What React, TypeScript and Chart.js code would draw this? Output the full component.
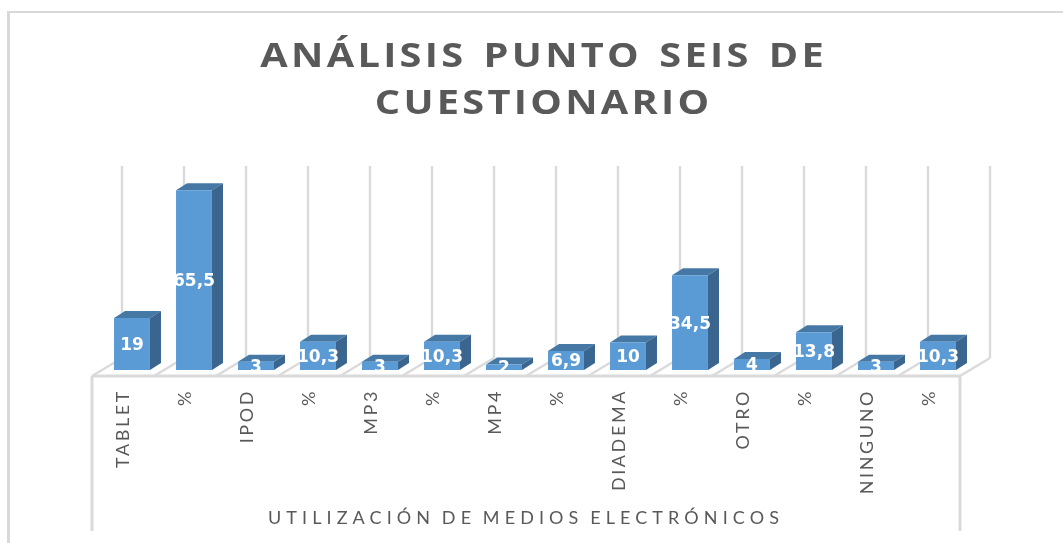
import React, { useEffect, useRef } from "react";
import { Chart, registerables } from "chart.js";

Chart.register(...registerables);

const categories = ["TABLET", "%", "IPOD", "%", "MP3", "%", "MP4", "%", "DIADEMA", "%", "OTRO", "%", "NINGUNO", "%"];
const values = [19, 65.5, 3, 10.3, 3, 10.3, 2, 6.9, 10, 34.5, 4, 13.8, 3, 10.3];
const titleLines = ["ANÁLISIS  PUNTO  SEIS  DE", "CUESTIONARIO"];
const axisTitle = "UTILIZACIÓN DE MEDIOS ELECTRÓNICOS";

const DEPTH_X = 30, DEPTH_Y = 18;      // depth of the floor
const BAR_SHIFT_X = 9, BAR_SHIFT_Y = 6; // bars stand part-way in the floor
const SIDE_X = 11, SIDE_Y = 7;         // depth of each bar
const GRID = "#dadada";

function spaced(obj: any, method: string, spacing: string, word = "0px", before?: (c: CanvasRenderingContext2D) => void) {
  const key = "__spaced_" + method;
  if (obj[key]) return;
  obj[key] = true;
  const orig = obj[method];
  obj[method] = function (...args: any[]) {
    const c = this.ctx;
    c.save();
    c.letterSpacing = spacing;
    c.wordSpacing = word;
    if (before) before(c);
    const r = orig.apply(this, args);
    c.restore();
    return r;
  };
}

const line = (c: CanvasRenderingContext2D, x1: number, y1: number, x2: number, y2: number) => {
  c.beginPath();
  c.moveTo(x1, y1);
  c.lineTo(x2, y2);
  c.stroke();
};

const pseudo3d = {
  id: "pseudo3d",
  beforeDraw(chart: any) {
    // the reference title is stretched sideways and sits right of the axis centre
    spaced(chart.titleBlock, "draw", "2.8px", "-4.3px", (c) => {
      c.translate(542.5, 0);
      c.scale(1.17, 1);
      c.translate(-525, 1);
    });
    spaced(chart.scales.x, "drawLabels", "2.6px");
    spaced(chart.scales.x, "drawTitle", "5.1px", "-3px");
    const c = chart.ctx as CanvasRenderingContext2D;
    c.save();
    c.fillStyle = "#d9d9d9";
    c.fillRect(7, 11, 3, 532);
    c.fillRect(7, 11, 1056, 2);
    c.restore();
  },
  beforeDatasetsDraw(chart: any) {
    const c = chart.ctx as CanvasRenderingContext2D;
    const x = chart.scales.x, y = chart.scales.y;
    const n = categories.length;
    const step = (x.right - x.left) / n;
    const base = y.bottom;
    c.save();
    c.strokeStyle = GRID;
    c.lineWidth = 2.4;
    const wallTop = y.top - DEPTH_Y;
    for (let i = 0; i <= n; i++) {
      const fx = x.left + i * step;
      line(c, fx + DEPTH_X, base - DEPTH_Y, fx + DEPTH_X, wallTop);
      line(c, fx, base, fx + DEPTH_X, base - DEPTH_Y);
    }
    c.lineWidth = 3;
    line(c, x.left, base, x.right, base);
    line(c, x.left, base, x.left, 531);
    line(c, x.right, base, x.right, 531);
    c.restore();

    c.save();
    c.translate(BAR_SHIFT_X, -BAR_SHIFT_Y);
    const meta = chart.getDatasetMeta(0);
    meta.data.forEach((bar: any) => {
      const p = bar.getProps(["x", "y", "base", "width"], true);
      const l = p.x - p.width / 2, r = p.x + p.width / 2;
      c.fillStyle = "#4678a6";
      c.beginPath();
      c.moveTo(l, p.y);
      c.lineTo(l + SIDE_X, p.y - SIDE_Y);
      c.lineTo(r + SIDE_X, p.y - SIDE_Y);
      c.lineTo(r, p.y);
      c.closePath();
      c.fill();
      c.fillStyle = "#39658e";
      c.beginPath();
      c.moveTo(r, p.y);
      c.lineTo(r + SIDE_X, p.y - SIDE_Y);
      c.lineTo(r + SIDE_X, p.base - SIDE_Y);
      c.lineTo(r, p.base);
      c.closePath();
      c.fill();
    });
    // stays translated until the bars are drawn
  },
  afterDatasetsDraw(chart: any) {
    const c = chart.ctx as CanvasRenderingContext2D;
    const meta = chart.getDatasetMeta(0);
    c.fillStyle = "#ffffff";
    c.font = 'bold 17px "DejaVu Sans"';
    c.textAlign = "center";
    c.textBaseline = "middle";
    meta.data.forEach((bar: any, i: number) => {
      const p = bar.getProps(["x", "y", "base"], true);
      c.fillText(String(values[i]).replace(".", ","), p.x, (p.y + p.base) / 2 + 1.5);
    });
    c.restore();
  },
};

export default function App() {
  const ref = useRef<HTMLCanvasElement>(null);
  useEffect(() => {
    const chart = new Chart(ref.current!, {
      type: "bar",
      data: {
        labels: categories,
        datasets: [{
          data: values,
          backgroundColor: "#5b9bd5",
          barPercentage: 0.58,
          categoryPercentage: 1,
          clip: false as any,
        }],
      },
      plugins: [pseudo3d as any],
      options: {
        responsive: false,
        animation: false,
        layout: { padding: { left: 92, right: 103, top: 0, bottom: 0 } },
        plugins: {
          legend: { display: false },
          tooltip: { enabled: false },
          title: {
            display: true,
            text: titleLines,
            color: "#595959",
            font: { family: '"Open Sans"', size: 34, weight: "bold", lineHeight: "47px" as any },
            padding: { top: 33, bottom: 57 },
          },
        },
        scales: {
          x: {
            type: "category",
            offset: true,
            border: { display: false },
            grid: { display: false, drawTicks: false },
            ticks: {
              autoSkip: false,
              minRotation: 90,
              maxRotation: 90,
              padding: 13,
              color: "#595959",
              font: { family: "Lato", size: 18 },
            },
            title: {
              display: true,
              text: axisTitle,
              color: "#595959",
              font: { family: "Lato", size: 18 },
              padding: { top: 0, bottom: 14 },
            },
            afterFit(scale: any) { scale.height = 167; },
          },
          y: {
            display: false,
            min: 0,
            max: 70,
          },
        },
      },
    });
    return () => chart.destroy();
  }, []);
  return (
    <div style={{ position: "absolute", left: 0, top: 0, width: 1063, height: 543 }}>
      <canvas ref={ref} width={1063} height={543} style={{ display: "block" }} />
    </div>
  );
}
